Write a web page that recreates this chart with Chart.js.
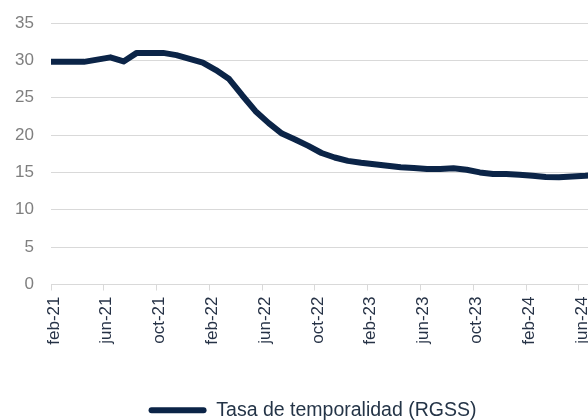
<!DOCTYPE html>
<html>
<head>
<meta charset="utf-8">
<script src="https://cdn.jsdelivr.net/npm/chart.js@4.4.1/dist/chart.umd.min.js"></script>
<style>
    html, body { margin: 0; padding: 0; background: #ffffff; overflow: hidden; }
    #wrap { width: 625px; height: 430px; }
</style>
</head>
<body>
<div id="wrap"><canvas id="tasaChart" width="625" height="430"></canvas></div>
<script>
// Meses (ene-21 a jul-24); cada valor mensual se dibuja a mitad de mes
const meses = [
    "ene-21", "feb-21", "mar-21", "abr-21", "may-21", "jun-21", "jul-21", "ago-21", "sep-21", "oct-21", "nov-21", "dic-21",
    "ene-22", "feb-22", "mar-22", "abr-22", "may-22", "jun-22", "jul-22", "ago-22", "sep-22", "oct-22", "nov-22", "dic-22",
    "ene-23", "feb-23", "mar-23", "abr-23", "may-23", "jun-23", "jul-23", "ago-23", "sep-23", "oct-23", "nov-23", "dic-23",
    "ene-24", "feb-24", "mar-24", "abr-24", "may-24", "jun-24", "jul-24"
];

// Tasa de temporalidad (RGSS), en %
const tasaTemporalidad = [
    29.8, 29.8, 29.8, 29.8, 30.1, 30.4, 29.85, 31.0, 31.0, 31.0, 30.7, 30.2,
    29.7, 28.7, 27.5, 25.3, 23.2, 21.6, 20.2, 19.4, 18.55, 17.6, 17.0, 16.55,
    16.3, 16.1, 15.9, 15.7, 15.6, 15.45, 15.45, 15.55, 15.35, 15.0, 14.8, 14.8,
    14.7, 14.55, 14.4, 14.37, 14.45, 14.55, 14.7
];

// Etiquetas del eje X (cada 4 meses) y marcas del eje Y
const etiquetasX = ["feb-21", "jun-21", "oct-21", "feb-22", "jun-22", "oct-22", "feb-23", "jun-23", "oct-23", "feb-24", "jun-24"];
const marcasY = [0, 5, 10, 15, 20, 25, 30, 35];

const azul = "#0b2447";
const fuente = "'Liberation Sans', Arial, sans-serif";

const ctx = document.getElementById('tasaChart').getContext('2d');

const tasaChart = new Chart(ctx, {
    type: "line",
    data: {
        datasets: [{
            label: "Tasa de temporalidad (RGSS)",
            data: tasaTemporalidad.map((v, i) => ({ x: i + 0.5, y: v })),
            borderColor: azul,
            backgroundColor: azul,
            borderWidth: 6,
            pointRadius: 0,
            tension: 0,
            borderJoinStyle: "round",
            clip: 0
        }]
    },
    options: {
        responsive: false,
        animation: false,
        layout: {
            padding: { top: 23, right: 0, bottom: 0, left: 0 }
        },
        plugins: {
            tooltip: { enabled: false },
            legend: {
                position: "bottom",
                labels: {
                    boxWidth: 58,
                    boxHeight: 6,
                    useBorderRadius: true,
                    borderRadius: 3,
                    padding: 0,
                    color: "#243447",
                    font: { family: fuente, size: 19.5 },
                    generateLabels: (chart) => Chart.defaults.plugins.legend.labels.generateLabels(chart)
                        .map(l => ({ ...l, lineWidth: 0, strokeStyle: "rgba(0,0,0,0)" }))
                }
            }
        },
        scales: {
            x: {
                type: "linear",
                min: 1,
                max: 44.5,
                border: { display: true, color: "#d9d9d9", width: 1 },
                grid: {
                    drawOnChartArea: false,
                    drawTicks: true,
                    tickLength: 6,
                    color: "#d9d9d9"
                },
                afterBuildTicks: (scale) => {
                    scale.ticks = etiquetasX.map(e => ({ value: meses.indexOf(e) }));
                },
                ticks: {
                    autoSkip: false,
                    maxRotation: 90,
                    minRotation: 90,
                    padding: 6,
                    labelOffset: 3,
                    color: "#263246",
                    font: { family: fuente, size: 17 },
                    callback: (v) => meses[v]
                },
                afterFit: (scale) => { scale.height = 116; }
            },
            y: {
                min: 0,
                max: 35,
                border: { display: false },
                grid: { color: "#d9d9d9", lineWidth: 1, drawTicks: false },
                afterBuildTicks: (scale) => { scale.ticks = marcasY.map(v => ({ value: v })); },
                ticks: {
                    padding: 17,
                    color: "#7f7f7f",
                    font: { family: fuente, size: 17, lineHeight: 0.7 }
                },
                afterFit: (scale) => { scale.width = 51; }
            }
        }
    }
});
</script>
</body>
</html>
